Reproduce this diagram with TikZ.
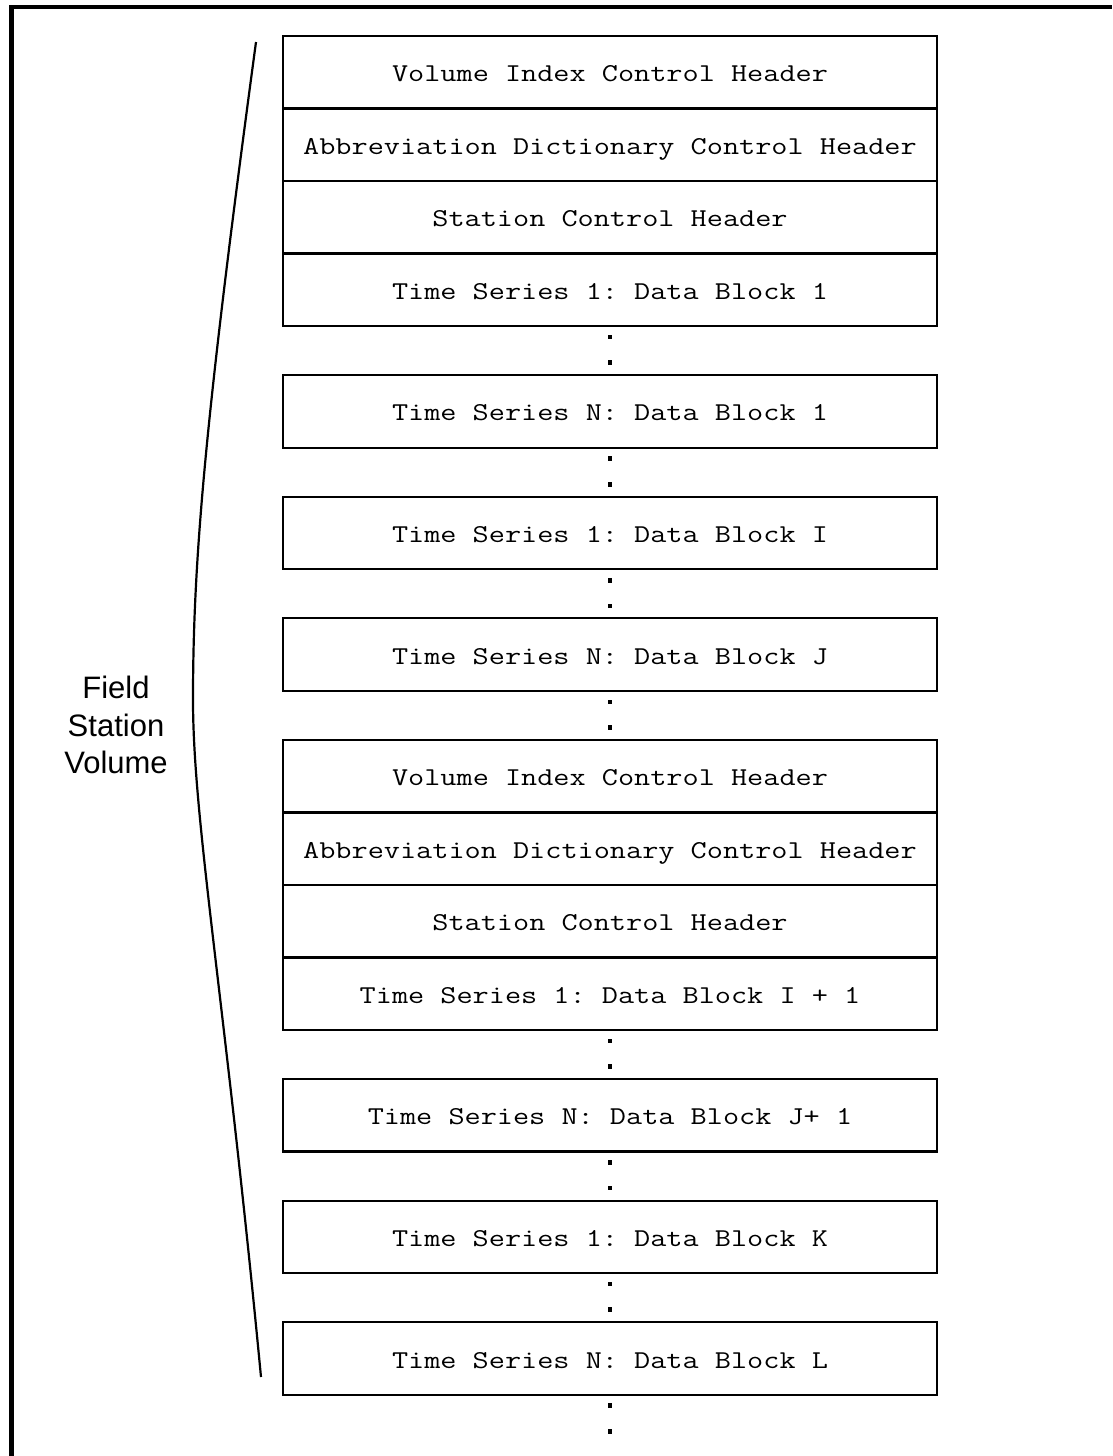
\documentclass[tikz,border=0pt]{standalone}
\usepackage{fontspec}
\usepackage{tikz}
\usetikzlibrary{positioning}

\newfontfamily\recfont{Latin Modern Mono}[FakeStretch=1.22]
\newfontfamily\labelfont{Liberation Sans}
\frenchspacing

\begin{document}
\begin{tikzpicture}[
    x=1pt, y=-1pt,
    rec/.style={rectangle, draw, line width=2.2pt, minimum width=654pt, minimum height=72.5pt, outer sep=0pt, inner sep=0pt, text height=22pt, text depth=3pt, font=\recfont\fontsize{25.7}{30}\selectfont},
    gapdot/.style={rectangle, fill, minimum size=4.6pt, inner sep=0pt, outer sep=0pt},
    frame/.style={line width=4.6pt},
    brace/.style={line width=2.2pt}
]
    \useasboundingbox (0,0) rectangle (1112,1456);
    \draw[frame] (11.5,1456) -- (11.5,7) -- (1112,7);

    % First volume
    \node[rec] (vich1) at (610,72.3) {Volume Index Control Header};
    \node[rec, below=0pt of vich1] (adch1) {Abbreviation Dictionary Control Header};
    \node[rec, below=0pt of adch1] (sch1) {Station Control Header};
    \node[rec, below=0pt of sch1] (ts1b1) {Time Series 1: Data Block 1};
    \node[gapdot, below=8.7pt of ts1b1] (d1a) {};
    \node[gapdot, below=21pt of d1a] (d1b) {};
    \node[rec, below=10.2pt of d1b] (tsNb1) {Time Series N: Data Block 1};
    \node[gapdot, below=8.7pt of tsNb1] (d2a) {};
    \node[gapdot, below=21pt of d2a] (d2b) {};
    \node[rec, below=10.2pt of d2b] (ts1bI) {Time Series 1: Data Block I};
    \node[gapdot, below=8.7pt of ts1bI] (d3a) {};
    \node[gapdot, below=21pt of d3a] (d3b) {};
    \node[rec, below=10.2pt of d3b] (tsNbJ) {Time Series N: Data Block J};
    \node[gapdot, below=8.7pt of tsNbJ] (d4a) {};
    \node[gapdot, below=21pt of d4a] (d4b) {};

    % Second volume
    \node[rec, below=10.2pt of d4b] (vich2) {Volume Index Control Header};
    \node[rec, below=0pt of vich2] (adch2) {Abbreviation Dictionary Control Header};
    \node[rec, below=0pt of adch2] (sch2) {Station Control Header};
    \node[rec, below=0pt of sch2] (ts1bI1) {Time Series 1: Data Block I + 1};
    \node[gapdot, below=8.7pt of ts1bI1] (d5a) {};
    \node[gapdot, below=21pt of d5a] (d5b) {};
    \node[rec, below=10.2pt of d5b] (tsNbJ1) {Time Series N: Data Block J+ 1};
    \node[gapdot, below=8.7pt of tsNbJ1] (d6a) {};
    \node[gapdot, below=21pt of d6a] (d6b) {};
    \node[rec, below=10.2pt of d6b] (ts1bK) {Time Series 1: Data Block K};
    \node[gapdot, below=8.7pt of ts1bK] (d7a) {};
    \node[gapdot, below=21pt of d7a] (d7b) {};
    \node[rec, below=10.2pt of d7b] (tsNbL) {Time Series N: Data Block L};
    \node[gapdot, below=8.7pt of tsNbL] (d8a) {};
    \node[gapdot, below=21pt of d8a] (d8b) {};

    % Bracket and label
    \coordinate (btop) at (256,42);
    \coordinate (bmid) at (193,700);
    \coordinate (bbot) at (261,1377);
    \draw[brace] (btop) .. controls (205,420) and (193,560) .. (bmid)
                        .. controls (193,820) and (225,1000) .. (bbot);
    \node[align=center, font=\labelfont\fontsize{31}{37.5}\selectfont] (fsv) at (116,725) {Field\\Station\\Volume};
\end{tikzpicture}
\end{document}
